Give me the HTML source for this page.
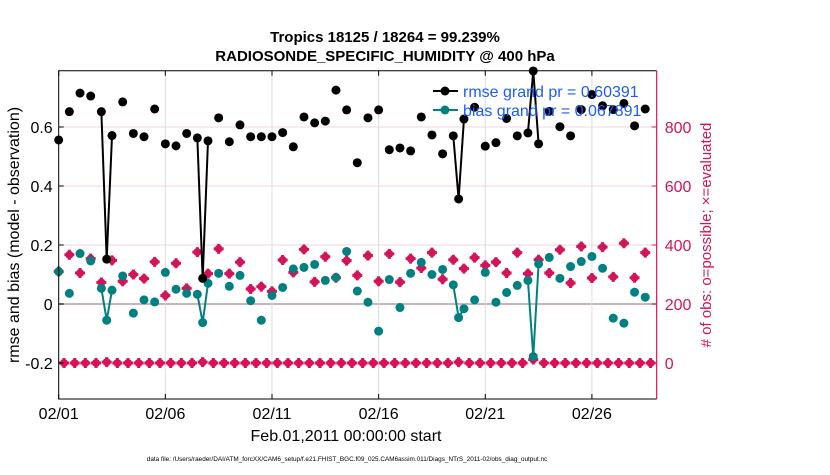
<!DOCTYPE html>
<html><head><meta charset="utf-8">
<style>
body{margin:0;background:#fff;width:830px;height:470px;overflow:hidden;font-family:"Liberation Sans",Arial,sans-serif}
svg text{font-family:"Liberation Sans",Arial,sans-serif}
</style></head>
<body>
<svg id="chart" width="830" height="470" viewBox="0 0 830 470" xmlns="http://www.w3.org/2000/svg">
<text x="385" y="42" text-anchor="middle" font-size="15" font-weight="bold">Tropics 18125 / 18264 = 99.239%</text>
<text x="385" y="61" text-anchor="middle" font-size="15" font-weight="bold">RADIOSONDE_SPECIFIC_HUMIDITY @ 400 hPa</text>
<g id="grid"></g>
<g id="marks"></g>
<g id="axes"></g>
<text transform="translate(19,235) rotate(-90)" text-anchor="middle" font-size="16">rmse and bias (model - observation)</text>
<text transform="translate(711,235) rotate(-90)" text-anchor="middle" font-size="15" fill="#d4145a"># of obs: o=possible; ×=evaluated</text>
<text x="346" y="441" text-anchor="middle" font-size="16">Feb.01,2011 00:00:00 start</text>
<text x="347" y="461" text-anchor="middle" font-size="6.4">data file: /Users/raeder/DAI/ATM_forcXX/CAM6_setup/f.e21.FHIST_BGC.f09_025.CAM6assim.011/Diags_NTrS_2011-02/obs_diag_output.nc</text>
<g>
<line x1="433" y1="91" x2="458" y2="91" stroke="#000" stroke-width="2"/>
<circle cx="445" cy="91" r="4.5" fill="#000"/>
<text x="463" y="97" font-size="16" fill="#1a5cff">rmse grand pr = 0.60391</text>
<line x1="433" y1="110" x2="458" y2="110" stroke="#008080" stroke-width="2"/>
<circle cx="445" cy="110" r="4.5" fill="#008080"/>
<text x="463" y="116" font-size="16" fill="#1a5cff">bias grand pr = 0.067891</text>
</g>
</svg>
<script>
const xTickLabels=["02/01","02/06","02/11","02/16","02/21","02/26"];
const xTickSteps=[0,20,40,60,80,100];
const leftTicks=[0.6,0.4,0.2,0,-0.2];
const rightTicks=[0,200,400,600,800];
const rmse=[0.556,null,0.652,null,0.715,null,0.705,null,0.652,0.152,
0.571,null,0.685,null,0.578,null,0.567,null,0.661,null,
0.543,null,0.536,null,0.578,null,0.563,0.087,0.553,null,
0.631,null,0.55,null,0.607,null,0.567,null,0.567,null,
0.567,null,0.581,null,0.533,null,0.634,null,0.614,null,
0.62,null,0.725,null,0.658,null,0.479,null,0.631,null,
0.658,null,0.523,null,0.529,null,0.519,null,0.634,null,
0.573,null,0.509,null,0.57,0.356,0.627,null,0.667,null,
0.535,null,0.547,null,0.629,null,0.57,null,0.58,0.79,
0.543,null,0.653,null,0.601,null,0.57,null,0.659,null,
0.71,null,0.672,null,0.659,null,0.68,null,0.604,null,
0.661,null];
const bias=[0.11,null,0.036,null,0.171,null,0.146,null,0.053,-0.055,
0.047,null,0.095,null,-0.031,null,0.014,null,0.007,null,
0.107,null,0.05,null,0.036,null,0.033,-0.063,0.07,null,
0.104,null,0.06,null,0.097,null,0.011,null,-0.055,null,
0.029,null,0.056,null,0.119,null,0.124,null,0.134,null,
0.08,null,0.09,null,0.178,null,0.044,null,0.006,null,
-0.092,null,0.083,null,-0.012,null,0.104,null,0.141,null,
0.1,null,0.117,null,0.065,-0.046,-0.016,null,0.014,null,
0.107,null,0.006,null,0.039,null,0.063,null,0.08,-0.178,
0.136,null,0.158,null,0.087,null,0.127,null,0.144,null,
0.161,null,0.121,null,-0.048,null,-0.065,null,0.04,null,
0.023,null];
const nPossible=[310,0,367,0,305,0,354,0,273,3,
348,0,277,0,300,0,286,0,343,0,
229,0,338,0,253,0,376,3,303,0,
387,0,303,0,342,0,251,0,259,0,
243,0,349,0,307,0,385,0,275,0,
360,0,289,0,347,0,297,0,364,0,
277,0,370,0,274,0,354,0,322,0,
374,0,284,0,350,3,320,0,357,0,
331,0,342,0,305,0,374,0,303,12,
350,0,305,0,384,0,271,0,395,0,
288,0,393,0,292,0,406,0,289,0,
374,0];
const nUsed=nPossible.slice();

const L=58.7,R=656.7,T=70.7,B=399;
const xMax=112.15;
const x=i=>L+(R-L)*i/xMax;
const yL=v=>304-v*295;
const yR=c=>363-c*0.295;
const NS="http://www.w3.org/2000/svg";
function mk(tag,attrs,parent){const e=document.createElementNS(NS,tag);for(const k in attrs)e.setAttribute(k,attrs[k]);parent.appendChild(e);return e;}
const grid=document.getElementById('grid'),marks=document.getElementById('marks'),axes=document.getElementById('axes');
rightTicks.forEach(c=>{
  const g=mk('line',{x1:L,x2:R,y1:yR(c),y2:yR(c),stroke:c===200?'#c8b4bc':'#f2d4de','stroke-width':c===200?2:1},grid);
  
  
});
xTickSteps.forEach((s,k)=>{
  if(k>0){const g=mk('line',{x1:x(s),x2:x(s),y1:T,y2:B,stroke:'#dcdcdc','stroke-width':1},grid);
  
  }
  const tk=mk('line',{x1:x(s),x2:x(s),y1:B,y2:B-5,stroke:'#000'},axes);
  
  
  const tk2=mk('line',{x1:x(s),x2:x(s),y1:T,y2:T+5,stroke:'#000'},axes);
  
  
  const t=mk('text',{x:x(s),y:419,'text-anchor':'middle','font-size':16},axes);
  t.textContent=xTickLabels[k];
  
  
});
leftTicks.forEach(v=>{
  const tk=mk('line',{x1:L,x2:L+5,y1:yL(v),y2:yL(v),stroke:'#000'},axes);
  
  
  const t=mk('text',{x:L-6,y:yL(v)+6,'text-anchor':'end','font-size':16},axes);
  t.textContent=(v===0?'0':String(v));
  
  
});
rightTicks.forEach(c=>{
  const tk=mk('line',{x1:R-5,x2:R,y1:yR(c),y2:yR(c),stroke:'#d4145a'},axes);
  
  
  const t=mk('text',{x:R+8,y:yR(c)+6,'font-size':16,fill:'#d4145a'},axes);
  t.textContent=String(c);
  
  
});
const ax1=mk('path',{d:`M${R},${T}H${L}V${B}H${R}`,fill:'none',stroke:'#000','stroke-width':1},axes);


const ax2=mk('line',{x1:R,x2:R,y1:T,y2:B,stroke:'#d4145a','stroke-width':1.2},axes);



nPossible.forEach((c,i)=>{
  const m=mk('circle',{cx:x(i),cy:yR(c),r:4,fill:'#d4145a'},marks);
  
  
});
nUsed.forEach((c,i)=>{
  const cx=x(i),cy=yR(c);
  const m=mk('path',{d:`M${cx-5},${cy}H${cx+5}M${cx},${cy-5}V${cy+5}`,stroke:'#d4145a','stroke-width':3},marks);
  
  
});
function series(vals,color,name){
  for(let i=0;i<vals.length-1;i++){
    if(vals[i]!==null&&vals[i+1]!==null){
      const l=mk('line',{x1:x(i),y1:yL(vals[i]),x2:x(i+1),y2:yL(vals[i+1]),stroke:color,'stroke-width':2},marks);
      
      
    }
  }
  vals.forEach((v,i)=>{
    if(v===null)return;
    const p=mk('circle',{cx:x(i),cy:yL(v),r:4.5,fill:color},marks);
    
    
  });
}
series(bias,'#008080','bias');
series(rmse,'#000000','rmse');
</script>
</body></html>
